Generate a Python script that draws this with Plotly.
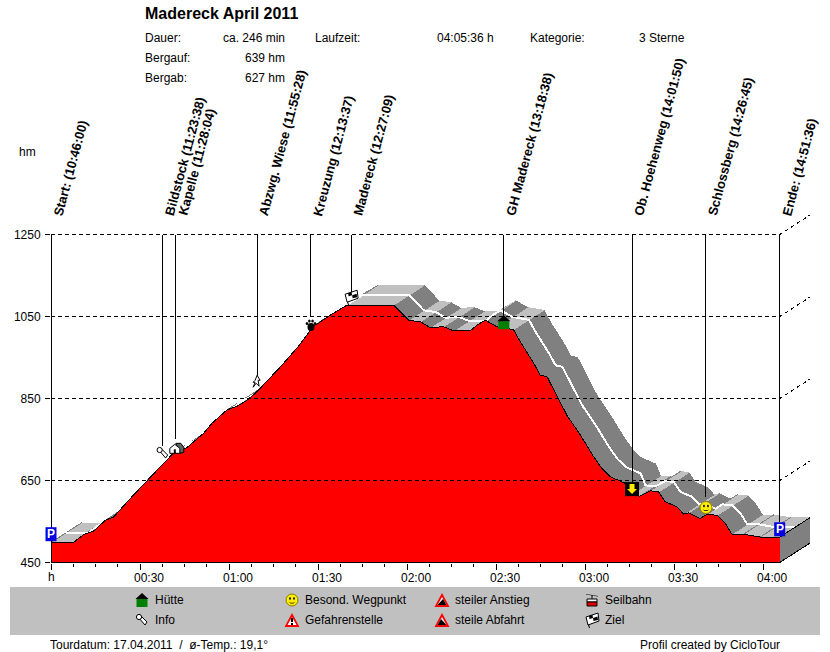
import plotly.graph_objects as go

# profile: minutes since start / elevation in hm
profile_t = [0, 7.6, 11, 14.4, 18.3, 21.1, 26.2, 32.4, 35.2, 39.1, 41.1, 45.8, 51.4, 54.3, 59.3, 62.7, 66.1,
             69.2, 73.9, 77.3, 82.9, 86.3, 88, 90.2, 94.1, 96.9, 99.8, 115.5, 118.3, 120.5, 124.5, 127.8,
             132.3, 135.7, 141.3, 143.6, 146.4, 150.3, 155.9, 158.2, 162.7, 164.9, 167.2, 170, 173.9, 178.4,
             182.9, 185.7, 188.5, 193.6, 195.2, 198.6, 202, 204.8, 207, 211, 213.2, 214.9, 218.8, 221.1,
             224.5, 227.3, 229.5, 233.4, 239, 245.6]
profile_e = [499, 499, 518, 527, 553, 561, 602, 651, 671, 700, 716, 730, 765, 790, 822, 831, 846,
             865, 900, 927, 973, 1005, 1025, 1034, 1053, 1066, 1078, 1078, 1058, 1041, 1037, 1023,
             1025, 1015, 1015, 1029, 1041, 1025, 1018, 988, 936, 907, 903, 863, 809, 761,
             708, 679, 659, 643, 614, 612, 625, 622, 598, 586, 568, 571, 557, 568,
             565, 545, 519, 519, 512, 512]

# waypoints: label, minutes, where the leader line stops, icon centre, icon
wp_labels = ['Start: (10:46:00)', 'Bildstock (11:23:38)', 'Kapelle (11:28:04)', 'Abzwg. Wiese (11:55:28)',
             'Kreuzung (12:13:37)', 'Madereck (12:27:09)', 'GH Madereck (13:18:38)', 'Ob. Hoehenweg (14:01:50)',
             'Schlossberg (14:26:45)', 'Ende: (14:51:36)']
wp_t = [0, 37.63, 42.07, 69.47, 87.62, 101.15, 152.63, 195.83, 220.75, 245.6]
wp_line_end = [536, 734, 751, 905, 1049, 1110, 1051, 643, 609, 548]
wp_icon_e = [519, 717, 726, 892, 1029, 1097, 1036, 629, 584, 531]
wp_icons = ['park', 'info', 'house', 'walk', 'paw', 'flag', 'hut', 'down', 'smile', 'park']

elev_ticks = [450, 650, 850, 1050, 1250]
grid_levels = [650, 850, 1050, 1250]
time_ticks = [0, 30, 60, 90, 120, 150, 180, 210, 240]
time_labels = ['', '00:30', '01:00', '01:30', '02:00', '02:30', '03:00', '03:30', '04:00']
minor_ticks = [7.5, 15, 22.5, 37.5, 45, 52.5, 67.5, 75, 82.5, 97.5, 105, 112.5, 127.5, 135, 142.5,
               157.5, 165, 172.5, 187.5, 195, 202.5, 217.5, 225, 232.5]

legend_items = [('Hütte', 'hut', 142, 600), ('Info', 'info', 142, 620),
                ('Besond. Wegpunkt', 'smile', 292, 600), ('Gefahrenstelle', 'danger', 292, 620),
                ('steiler Anstieg', 'climb', 442, 600), ('steile Abfahrt', 'descent', 442, 620),
                ('Seilbahn', 'cable', 592, 600), ('Ziel', 'flag', 592, 620)]

FONT = 'Liberation Sans'
W, H = 830, 652
L, R, T, B = 51, 20, 215, 89
T_END = 245.6
X_MAX = (W - L - R) / 2.967
Y_MIN = 450 - 0.5 / 0.41   # puts the 450 line on a pixel centre
Y_MAX = Y_MIN + (H - T - B) / 0.41
DEPTH_T, DEPTH_E = 10.35, 48   # offset of the 3D back edge

def px(x):
    return (x - L) / (W - L - R)

def py(y):
    return (H - B - y) / (H - T - B)

# icon parts, offsets in screen pixels from the icon centre, y pointing down
def poly(pts, fill, line=None, w=1):
    return ('poly', pts, fill, line, w)

def ell(cx, cy, rx, ry, fill, line=None, w=1):
    return ('ell', (cx, cy, rx, ry), fill, line, w)

ICONS = {
    'park': [poly([(-5.5, -7), (5.5, -7), (5.5, 7), (-5.5, 7)], '#0000e0')],
    'hut': [poly([(-5.5, -1), (5.5, -1), (5.5, 7), (-5.5, 7)], '#008000'),
            poly([(-6.5, -1), (0, -7), (6.5, -1)], '#000000')],
    'info': [poly([(-3, -2), (-1, -4), (5, 2), (3, 5)], '#ffffff', '#000000'),
             ell(-3, -3, 2.6, 2.6, '#ffffff', '#000000')],
    'house': [poly([(0, -6), (5, -6), (8, -2), (8, 3), (4, 4)], '#606060', '#000000'),
              poly([(-6, 4), (-6, -1), (-1, -5), (4, -1), (4, 4)], '#ffffff', '#000000'),
              poly([(-2, 0), (0, 0), (0, 4), (-2, 4)], '#000000')],
    'walk': [poly([(0, -6), (-2, -1), (-4, 1), (-2, 1), (-4, 6), (-1, 2), (2, 5), (1, -1), (3, -1)], '#ffffff', '#000000')],
    'paw': [ell(0, 2, 3.5, 4, '#000000'), ell(-4, -1.5, 1.3, 1.5, '#000000'), ell(-1.6, -4, 1.3, 1.5, '#000000'),
            ell(1.6, -4, 1.3, 1.5, '#000000'), ell(4, -1.5, 1.3, 1.5, '#000000')],
    'flag': [poly([(-6, -3), (6, -7), (7, 1), (-4, 5)], '#ffffff', '#000000'),
             poly([(-3, -4), (0.5, -5), (1, -2), (-2.5, -1)], '#000000'),
             poly([(1, -2), (5.5, -3.5), (6, 0), (1.5, 1)], '#000000'),
             poly([(-4, 5), (-3, 8), (-2, 8), (-3, 4.5)], '#000000')],
    'down': [poly([(-7, -7), (7, -7), (7, 7), (-7, 7)], '#000000'),
             poly([(-2.5, -5), (2.5, -5), (2.5, 0), (5, 0), (0, 5), (-5, 0), (-2.5, 0)], '#ffea00')],
    'smile': [ell(0, 0, 6, 6, '#ffee00', '#8a7a00'), ell(-2, -1.5, 0.9, 1.2, '#000000'), ell(2, -1.5, 0.9, 1.2, '#000000'),
              poly([(-3.5, 1.5), (-1.5, 3.5), (1.5, 3.5), (3.5, 1.5), (1.5, 2.7), (-1.5, 2.7)], '#000000')],
    'danger': [poly([(0, -7), (7.5, 7), (-7.5, 7)], '#ff0000'), poly([(0, -3), (4.5, 5), (-4.5, 5)], '#ffffff'),
               poly([(-1, -2), (1, -2), (1, 2), (-1, 2)], '#000000'), poly([(-1, 3), (1, 3), (1, 5), (-1, 5)], '#000000')],
    'climb': [poly([(0, -7), (7.5, 7), (-7.5, 7)], '#ff0000'), poly([(0, -3), (4.5, 5), (-4.5, 5)], '#ffffff'),
              poly([(1, -1), (4.5, 5), (-4.5, 5)], '#000000')],
    'descent': [poly([(0, -7), (7.5, 7), (-7.5, 7)], '#ff0000'), poly([(0, -3), (4.5, 5), (-4.5, 5)], '#ffffff'),
                poly([(-1, -1), (4.5, 5), (-4.5, 5)], '#000000')],
    'cable': [poly([(-6, -6), (6, -4), (6, -3.4), (-6, -5.4)], '#000000'),
              poly([(-0.5, -5), (0.5, -5), (0.5, -1), (-0.5, -1)], '#000000'),
              poly([(-5, -1), (5, -1), (5, 2), (-5, 2)], '#ffffff', '#000000'),
              poly([(-5, 2), (5, 2), (5, 6), (-5, 6)], '#e00000', '#000000')],
}

def icon_shapes(name, xref, xanchor, yref, yanchor):
    shapes = []
    for kind, geom, fill, line, w in ICONS[name]:
        s = dict(xref=xref, yref=yref, xsizemode='pixel', ysizemode='pixel', xanchor=xanchor, yanchor=yanchor,
                 fillcolor=fill, line=dict(color=line or fill, width=w if line else 0))
        if kind == 'poly':
            s['type'] = 'path'
            s['path'] = 'M' + ' L'.join(f'{x},{-y}' for x, y in geom) + ' Z'
        else:
            cx, cy, rx, ry = geom
            s.update(type='circle', x0=cx - rx, x1=cx + rx, y0=-cy - ry, y1=-cy + ry)
        shapes.append(s)
    return shapes

fig = go.Figure()

# 3D ribbon behind the profile, one parallelogram per stretch
dark_x, dark_y, light_x, light_y = [], [], [], []
on_dark_x, on_dark_y, on_light_x, on_light_y = [], [], [], []
was_dark = False
for i in range(len(profile_t) - 1):
    t0, t1, e0, e1 = profile_t[i], profile_t[i + 1], profile_e[i], profile_e[i + 1]
    xs = [t0, t1, t1 + DEPTH_T, t0 + DEPTH_T, t0, None]
    ys = [e0, e1, e1 + DEPTH_E, e0 + DEPTH_E, e0, None]
    stroke_x = [t0, t0 + DEPTH_T, None]
    stroke_y = [e0, e0 + DEPTH_E, None]
    is_dark = (e1 - e0) / (t1 - t0) < -1.5
    if is_dark:
        dark_x += xs
        dark_y += ys
        if not was_dark:
            on_dark_x += stroke_x
            on_dark_y += stroke_y
    else:
        light_x += xs
        light_y += ys
        on_light_x += stroke_x
        on_light_y += stroke_y
    was_dark = is_dark
fig.add_scatter(x=light_x, y=light_y, mode='lines', fill='toself', fillcolor='#c0c0c0', line=dict(width=0))
fig.add_scatter(x=dark_x, y=dark_y, mode='lines', fill='toself', fillcolor='#808080', line=dict(width=0))
fig.add_scatter(x=on_light_x, y=on_light_y, mode='lines', line=dict(color='#808080', width=1))
fig.add_scatter(x=on_dark_x, y=on_dark_y, mode='lines', line=dict(color='#c0c0c0', width=1))
fig.add_scatter(x=[t + DEPTH_T / 2 for t in profile_t], y=[e + DEPTH_E / 2 for e in profile_e],
                mode='lines', line=dict(color='#ffffff', width=2))

# end cap of the ribbon
fig.add_scatter(x=[T_END, T_END + DEPTH_T, T_END + DEPTH_T, T_END, T_END],
                y=[450, 450 + DEPTH_E, profile_e[-1] + DEPTH_E, profile_e[-1], 450],
                mode='lines', fill='toself', fillcolor='#808080', line=dict(color='#000000', width=1))

# the profile itself
fig.add_scatter(x=profile_t, y=profile_e, mode='lines', fill='tozeroy', fillcolor='#ff0000',
                line=dict(color='#000000', width=1))

# grid, also on the side wall
for lvl in grid_levels:
    fig.add_scatter(x=[0, T_END, T_END + DEPTH_T], y=[lvl, lvl, lvl + DEPTH_E], mode='lines',
                    line=dict(color='#000000', width=1, dash='4px,3px'))
fig.add_scatter(x=[T_END + DEPTH_T, T_END + DEPTH_T], y=[1250 + DEPTH_E, profile_e[-1] + DEPTH_E], mode='lines',
                line=dict(color='#000000', width=1, dash='4px,3px'))

# axes
fig.add_scatter(x=[0, 0, T_END], y=[1250, 450, 450], mode='lines', line=dict(color='#000000', width=1), cliponaxis=False)

# leader lines
lead_x, lead_y = [], []
for t, e in zip(wp_t, wp_line_end):
    lead_x += [t, t, None]
    lead_y += [1250, e, None]
fig.add_scatter(x=lead_x, y=lead_y, mode='lines', line=dict(color='#000000', width=1), cliponaxis=False)

shapes = [dict(type='rect', xref='paper', yref='paper', x0=px(10), x1=px(820), y0=py(635), y1=py(587),
               fillcolor='#c0c0c0', line=dict(width=0), layer='below')]
annotations = []

def note(text, x, y, anchor='left', size=12, bold=False, color='#000000'):
    pad = {'left': -1, 'right': 1, 'center': 0}[anchor]   # annotations keep 1px round the text
    annotations.append(dict(text=f'<b>{text}</b>' if bold else text, xref='paper', yref='paper', x=px(x + pad), y=py(y),
                            xanchor=anchor, yanchor='middle', showarrow=False, borderpad=0,
                            font=dict(family=FONT, size=size, color=color)))

# header block
note('Madereck April 2011', 145, 13, size=16, bold=True)
note('Dauer:', 145, 38)
note('ca. 246 min', 285, 38, 'right')
note('Laufzeit:', 315, 38)
note('04:05:36 h', 494, 38, 'right')
note('Kategorie:', 530, 38)
note('3 Sterne', 639, 38)
note('Bergauf:', 145, 58)
note('639 hm', 285, 58, 'right')
note('Bergab:', 145, 78)
note('627 hm', 285, 78, 'right')
note('hm', 27, 152, 'center')
note('h', 51.5, 577, 'center')

# footer
note('Tourdatum: 17.04.2011  /  ø-Temp.: 19,1°', 50, 645)
note('Profil created by CicloTour', 780, 645, 'right')

# waypoints
for label, t, e, name in zip(wp_labels, wp_t, wp_icon_e, wp_icons):
    annotations.append(dict(text=f'<b>{label}</b>', xref='x', yref='y', x=t, y=1250, xanchor='left', yanchor='bottom',
                            xshift=-2, yshift=16, textangle=-75, showarrow=False, borderpad=0,
                            font=dict(family=FONT, size=13, color='#000000')))
    if t == 0:
        shapes += icon_shapes(name, 'paper', 0, 'y', e)
    else:
        shapes += icon_shapes(name, 'x', t, 'y', e)
    if name == 'park':
        annotations.append(dict(text='<b>P</b>', xref='x', yref='y', x=t, y=e, showarrow=False, borderpad=0,
                                font=dict(family=FONT, size=12, color='#ffffff')))

# legend strip
for label, name, x, y in legend_items:
    shapes += icon_shapes(name, 'paper', px(x), 'paper', py(y))
    note(label, x + 13, y)

fig.update_layout(
    width=W, height=H, margin=dict(l=L, r=R, t=T, b=B, pad=0), showlegend=False,
    paper_bgcolor='#ffffff', plot_bgcolor='#ffffff',
    font=dict(family=FONT, size=12, color='#000000'),
    shapes=shapes, annotations=annotations,
)
fig.update_xaxes(range=[0, X_MAX], tickvals=time_ticks, ticktext=time_labels, ticks='outside', ticklen=6,
                 tickcolor='#000000', showgrid=False, zeroline=False, showline=False, tickangle=0,
                 ticklabelshift=9, ticklabelstandoff=-2,
                 tickfont=dict(family=FONT, size=12, color='#000000'),
                 minor=dict(tickvals=minor_ticks, ticks='outside', ticklen=3, tickcolor='#000000', showgrid=False))
fig.update_yaxes(range=[Y_MIN, Y_MAX], tickvals=elev_ticks, ticks='outside', ticklen=5, tickcolor='#000000',
                 showgrid=False, zeroline=False, showline=False, ticklabelstandoff=2,
                 tickfont=dict(family=FONT, size=12, color='#000000'))
fig.update_traces(hoverinfo='skip')

# the reference is drawn without antialiasing
post = ("document.body.style.margin='0';"
        "var st=document.createElement('style');"
        "st.textContent='.scatterlayer path{shape-rendering:crispEdges}';"
        "document.head.appendChild(st);")
fig.write_html("out.html", post_script=post, config=dict(displayModeBar=False))
